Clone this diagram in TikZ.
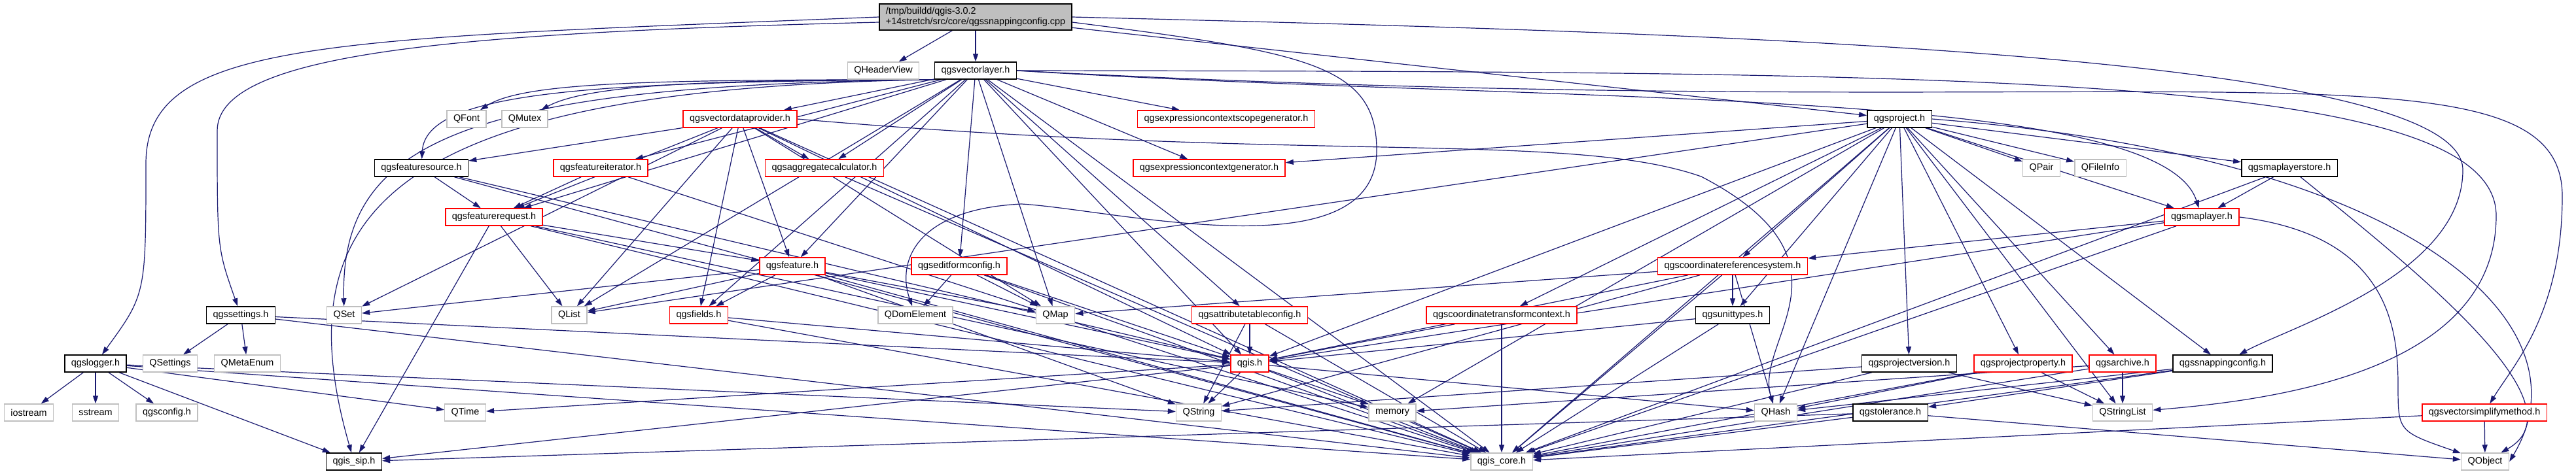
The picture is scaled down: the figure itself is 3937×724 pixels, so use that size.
\documentclass[tikz,border=0pt]{standalone}
\usepackage{fontspec}
\setmainfont{Liberation Sans}
\usetikzlibrary{arrows.meta,backgrounds}
\definecolor{edgeblue}{RGB}{25,25,112}
\definecolor{boxgray}{RGB}{191,191,191}
\begin{document}
\begin{tikzpicture}[x=1pt,y=-1pt,
  every node/.style={font=\fontsize{14.4}{16}\selectfont,inner xsep=10pt,inner ysep=0pt,minimum height=26pt,line width=1.5pt,fill=white},
  hd/.style={draw=black},
  tr/.style={draw=red},
  ex/.style={draw=boxgray},
  dep/.style={draw=edgeblue,line width=1.2pt,-{Triangle[length=12pt,width=8pt]}}]
\useasboundingbox (0,0) rectangle (3937,724);
\node[hd,fill=boxgray,align=left,minimum height=40pt] (root) at (1491,26) {/tmp/buildd/qgis-3.0.2\\+14stretch/src/core/qgssnappingconfig.cpp};
\node[ex] (qhv) at (1350,108) {QHeaderView};
\node[hd] (vl) at (1491,108) {qgsvectorlayer.h};
\node[ex] (qfont) at (713,182) {QFont};
\node[ex] (qmutex) at (802,182) {QMutex};
\node[tr] (vdp) at (1131,182) {qgsvectordataprovider.h};
\node[tr] (ecsg) at (1874,182) {qgsexpressioncontextscopegenerator.h};
\node[hd] (prj) at (2903,182) {qgsproject.h};
\node[hd] (fs) at (644,257) {qgsfeaturesource.h};
\node[tr] (fi) at (918,257) {qgsfeatureiterator.h};
\node[tr] (ac) at (1260,257) {qgsaggregatecalculator.h};
\node[tr] (ecg) at (1848,257) {qgsexpressioncontextgenerator.h};
\node[ex] (qpair) at (3120,257) {QPair};
\node[ex] (qfi) at (3210,257) {QFileInfo};
\node[hd] (mls) at (3499,257) {qgsmaplayerstore.h};
\node[tr] (fr) at (755,332) {qgsfeaturerequest.h};
\node[tr] (ml) at (3365,332) {qgsmaplayer.h};
\node[tr] (feat) at (1211,407) {qgsfeature.h};
\node[tr] (efc) at (1466,407) {qgseditformconfig.h};
\node[tr] (crs) at (2648,407) {qgscoordinatereferencesystem.h};
\node[hd] (sett) at (368,482) {qgssettings.h};
\node[ex] (qset) at (526,482) {QSet};
\node[ex] (qlist) at (870,482) {QList};
\node[tr] (fld) at (1068,482) {qgsfields.h};
\node[ex] (qdom) at (1399,482) {QDomElement};
\node[ex] (qmap) at (1613,482) {QMap};
\node[tr] (atc) at (1910,482) {qgsattributetableconfig.h};
\node[tr] (ctc) at (2295,482) {qgscoordinatetransformcontext.h};
\node[hd] (unit) at (2648,482) {qgsunittypes.h};
\node[hd] (log) at (146,556) {qgslogger.h};
\node[ex] (qsettings) at (260,556) {QSettings};
\node[ex] (qmeta) at (378,556) {QMetaEnum};
\node[tr] (qgis) at (1910,556) {qgis.h};
\node[hd] (pver) at (2918,556) {qgsprojectversion.h};
\node[tr] (pprop) at (3092,556) {qgsprojectproperty.h};
\node[tr] (arch) at (3244,556) {qgsarchive.h};
\node[hd] (snap) at (3397,556) {qgssnappingconfig.h};
\node[ex] (iostream) at (44,631) {iostream};
\node[ex] (sstream) at (146,631) {sstream};
\node[ex] (qgsconfig) at (255,631) {qgsconfig.h};
\node[ex] (qtime) at (711,631) {QTime};
\node[ex] (qstring) at (1832,631) {QString};
\node[ex] (memory) at (2128,631) {memory};
\node[ex] (qhash) at (2714,631) {QHash};
\node[hd] (tol) at (2889,631) {qgstolerance.h};
\node[ex] (qsl) at (3244,631) {QStringList};
\node[tr] (vsm) at (3797,631) {qgsvectorsimplifymethod.h};
\node[hd] (sip) at (541,706) {qgis\_sip.h};
\node[ex] (core) at (2295,706) {qgis\_core.h};
\node[ex] (qobject) at (3798,706) {QObject};
\begin{scope}[on background layer]
\foreach \dst in {qhv,vl,prj} \draw[dep] (root) -- (\dst);
\draw[dep] (root.west) .. controls (500,60) and (223,60) .. (223,250) .. controls (223,450) .. (log);
\draw[dep] ([yshift=-8pt]root.west) .. controls (700,50) and (332,80) .. (332,200) .. controls (332,380) .. (sett);
\draw[dep] (root.east) .. controls (2600,50) and (3764,80) .. (3764,260) .. controls (3764,420) and (3500,500) .. (snap);
\draw[dep] ([yshift=-8pt]root.east) .. controls (2000,80) and (2104,100) .. (2104,230) .. controls (2104,420) and (1700,320) .. (1561,312) .. controls (1400,320) and (1370,400) .. (qdom);
\draw[dep] (vl.south west) .. controls (1000,122) and (800,125) .. (qfont);
\draw[dep] (vl.south west) .. controls (1100,122) and (900,128) .. (qmutex);
\draw[dep] (vl.south west) .. controls (900,125) and (650,140) .. (fs);
\draw[dep] (vl.south west) .. controls (700,130) and (520,220) .. (qset);
\draw[dep] (vl.south west) .. controls (600,135) and (430,320) .. (sip);
\foreach \dst in {vdp,ecsg,fi,fr,ac,ecg,feat,efc,fld,qmap,qlist,atc,qgis,core} \draw[dep] (vl) -- (\dst);
\draw[dep] (vl.east) .. controls (2400,160) and (3300,130) .. (ml);
\draw[dep] (vl.east) .. controls (3000,110) and (3815,110) .. (3815,330) .. controls (3815,560) and (3500,610) .. (qsl);
\draw[dep] (vl.east) .. controls (3300,200) and (3916,40) .. (3916,300) .. controls (3916,480) and (3840,560) .. (vsm);
\foreach \dst in {fs,fr,ac,feat,fld,qset,qlist,qmap,qgis,core} \draw[dep] (vdp) -- (\dst);
\draw[dep] (vdp.east) .. controls (2000,250) and (2400,200) .. (2600,270) .. controls (2850,400) and (2680,520) .. (qhash);
\foreach \dst in {fr,qgis,core} \draw[dep] (fs) -- (\dst);
\foreach \dst in {fr,core} \draw[dep] (fi) -- (\dst);
\foreach \dst in {feat,qlist,sip,core,memory} \draw[dep] (fr) -- (\dst);
\draw[dep] (ac) -- (core);
\foreach \dst in {fld,qset,qlist,qmap,qgis,qstring,core} \draw[dep] (feat) -- (\dst);
\foreach \dst in {qgis,core} \draw[dep] (fld) -- (\dst);
\foreach \dst in {qdom,qmap,qgis,core} \draw[dep] (efc) -- (\dst);
\foreach \dst in {qgis,qstring,core} \draw[dep] (atc) -- (\dst);
\foreach \dst in {qstring,qtime,memory,qhash,core,sip} \draw[dep] (qgis) -- (\dst);
\foreach \dst in {qsettings,qmeta,qgis,core} \draw[dep] (sett) -- (\dst);
\foreach \dst in {iostream,sstream,qgsconfig,qtime,sip,qstring,core} \draw[dep] (log) -- (\dst);
\foreach \dst in {ecg,ml,mls,qpair,qfi,crs,ctc,unit,pver,pprop,arch,snap,qhash,qsl,memory,qgis,core,qlist} \draw[dep] (prj) -- (\dst);
\draw[dep] (prj.east) .. controls (3700,240) and (3960,500) .. (qobject.east);
\foreach \dst in {unit,qhash,qmap,qstring,qgis,core} \draw[dep] (crs) -- (\dst);
\foreach \dst in {qgis,core} \draw[dep] (ctc) -- (\dst);
\foreach \dst in {qgis,core} \draw[dep] (unit) -- (\dst);
\foreach \dst in {qstring,qsl,core} \draw[dep] (pver) -- (\dst);
\foreach \dst in {qhash,qsl,core} \draw[dep] (pprop) -- (\dst);
\foreach \dst in {qsl,memory,core} \draw[dep] (arch) -- (\dst);
\foreach \dst in {tol,qhash,core} \draw[dep] (snap) -- (\dst);
\foreach \dst in {qobject,sip,core} \draw[dep] (tol) -- (\dst);
\foreach \dst in {crs,qgis,core} \draw[dep] (ml) -- (\dst);
\draw[dep] (ml.east) .. controls (3650,360) and (3665,500) .. (3665,590) .. controls (3665,660) .. (qobject);
\foreach \dst in {ml,core} \draw[dep] (mls) -- (\dst);
\draw[dep] (mls) .. controls (3700,420) and (3950,620) .. (qobject);
\foreach \dst in {qobject,core} \draw[dep] (vsm) -- (\dst);
\end{scope}
\end{tikzpicture}
\end{document}
